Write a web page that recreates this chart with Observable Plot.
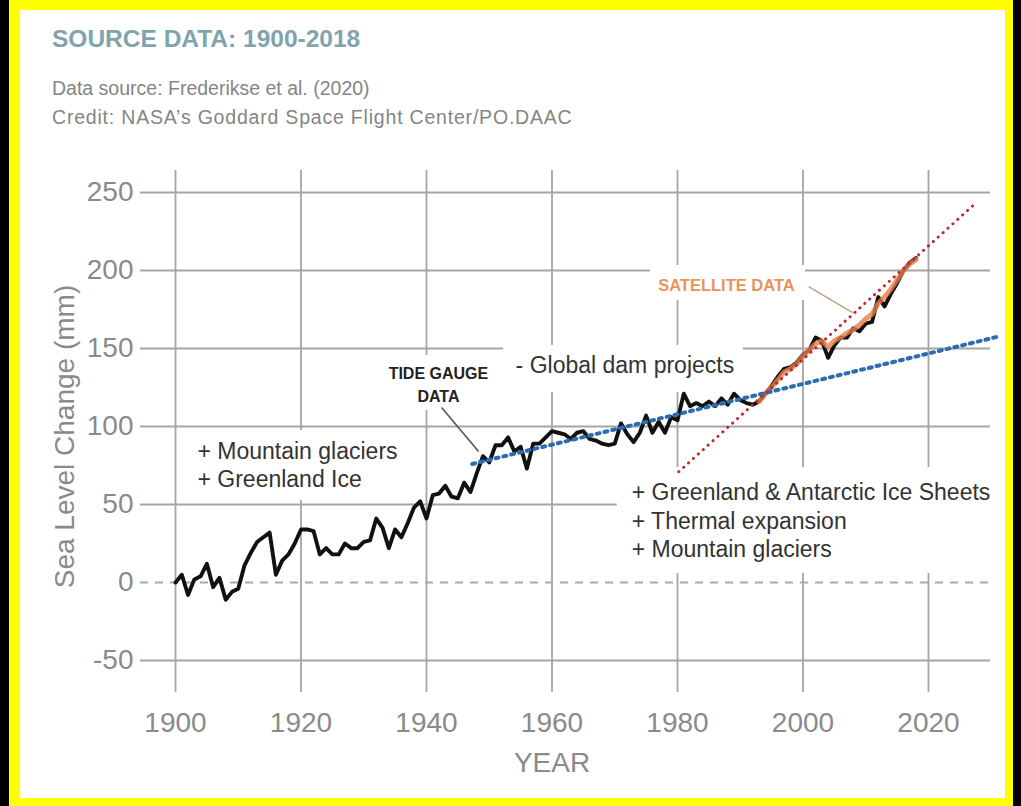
<!DOCTYPE html>
<html>
<head>
<meta charset="utf-8">
<script src="https://cdn.jsdelivr.net/npm/d3@7"></script>
<script src="https://cdn.jsdelivr.net/npm/@observablehq/plot@0.6"></script>
<style>
  html, body { margin: 0; padding: 0; background: #000; width: 1021px; height: 806px; overflow: hidden; }
  #frame { position: absolute; left: 9px; top: 0; width: 1004px; height: 806px; background: #ffff00; }
  #inner { position: absolute; left: 20px; top: 10px; width: 985px; height: 788px; background: #fff; }
  .t { position: absolute; font-family: "Liberation Sans", Arial, Helvetica, sans-serif; white-space: nowrap; }
  #title { left: 52px; top: 25px; font-size: 24.5px; font-weight: bold; color: #7fa4ae; line-height: 28px; }
  #sub1 { left: 52px; top: 77px; font-size: 19.5px; color: #858585; line-height: 22px; }
  #sub2 { left: 52px; top: 106px; font-size: 19.5px; color: #858585; line-height: 22px; letter-spacing: 0.8px; }
  #chart { position: absolute; left: 0; top: 140px; }
</style>
</head>
<body>
<div id="frame"></div>
<div id="inner"></div>
<div class="t" id="title">SOURCE DATA: 1900-2018</div>
<div class="t" id="sub1">Data source: Frederikse et al. (2020)</div>
<div class="t" id="sub2">Credit: NASA’s Goddard Space Flight Center/PO.DAAC</div>
<div id="chart"></div>
<script>
// ---- data ----
const years = d3.range(1900, 2019);
const seaLevel = [
  0, 5, -8, 2, 4, 12, -3, 3, -11, -6,
  -4, 11, 19, 26, 29, 32, 5, 14, 18, 25,
  34, 34, 33, 18, 22, 18, 18, 25, 22, 22,
  26, 27, 41, 35, 22, 34, 29, 38, 48, 52,
  41, 56, 57, 62, 55, 54, 64, 58, 70, 81,
  77, 88, 88, 93, 84, 87, 73, 89, 89, 93,
  97, 96, 95, 92, 96, 97, 92, 91, 89, 88,
  89, 102, 95, 90, 96, 107, 96, 103, 96, 106,
  104, 121, 113, 115, 113, 116, 113, 118, 114, 121,
  117, 115, 114, 116, 121, 126, 132, 137, 138, 141,
  146, 149, 157, 155, 144, 152, 157, 157, 163, 161,
  166, 167, 183, 177, 185, 192, 200, 205, 208
];
const satYears = d3.range(1993, 2019);
const satLevel = [
  116, 121, 125, 130, 135, 137, 140, 145, 149, 153,
  155, 151, 155, 157, 160, 162, 165, 169, 172, 179,
  183, 188, 194, 200, 204, 207
];
const tideTrendYears = [1947.3, 2031.5];
const tideTrendLevel = [76, 158];
const satTrendYears = [1980.2, 2027.2];
const satTrendLevel = [71, 242];

const xTicks = [1900, 1920, 1940, 1960, 1980, 2000, 2020];
const yTicks = [-50, 0, 50, 100, 150, 200, 250];

const noteText = ["- Global dam projects", "+ Mountain glaciers", "+ Greenland Ice",
  "+ Greenland & Antarctic Ice Sheets", "+ Thermal expansion", "+ Mountain glaciers"];
const noteYear = [1954.2, 1903.5, 1903.5, 1972.7, 1972.7, 1972.7];
const noteLevel = [139.1, 84, 66, 57.7, 39.1, 21.2];

const labelText = ["TIDE GAUGE\nDATA", "SATELLITE DATA"];
const labelYear = [1941.9, 1987.8];
const labelLevel = [127.6, 190.4];

// white boxes behind the annotations (year span, mm span)
const boxYears = [[1952.3, 1990.5], [1902.4, 1935.9], [1970.4, 2029.9], [1931.3, 1949.6], [1975.7, 2000.4]];
const boxLevels = [[121.8, 151.9], [52.6, 97.4], [5.8, 73.7], [110.3, 145.5], [180.8, 203.2]];

const pointerFrom = [[1942.4, 112.2], [2000.9, 189.7]];
const pointerTo = [[1948.3, 84], [2007.9, 173]];

// ---- tables ----
const series = years.map((y, i) => ({year: y, level: seaLevel[i]}));
const sat = satYears.map((y, i) => ({year: y, level: satLevel[i]}));
const tideTrend = tideTrendYears.map((y, i) => ({year: y, level: tideTrendLevel[i]}));
const satTrend = satTrendYears.map((y, i) => ({year: y, level: satTrendLevel[i]}));
const notes = noteText.map((t, i) => ({text: t, year: noteYear[i], level: noteLevel[i]}));
const labels = labelText.map((t, i) => ({text: t, year: labelYear[i], level: labelLevel[i]}));
const boxes = boxYears.map((b, i) => ({x1: b[0], x2: b[1], y1: boxLevels[i][0], y2: boxLevels[i][1]}));
const pointers = pointerFrom.map((p, i) => ({x1: p[0], y1: p[1], x2: pointerTo[i][0], y2: pointerTo[i][1]}));

const font = "Liberation Sans, Arial, Helvetica, sans-serif";
const gridColor = "#a5a5a5";

const chart = Plot.plot({
  width: 1021,
  height: 660,
  marginLeft: 140,
  marginRight: 31,
  marginTop: 30,
  marginBottom: 108,
  style: {background: "transparent", color: "#8a8a8a", fontFamily: font},
  x: {domain: [1900, 2020], range: [175, 928]},
  y: {domain: [-50, 250], range: [520, 52]},
  marks: [
    Plot.ruleX(xTicks, {stroke: gridColor, strokeWidth: 1.8}),
    Plot.ruleY(yTicks.filter(d => d !== 0), {stroke: gridColor, strokeWidth: 1.8}),
    Plot.ruleY([0], {stroke: "#aaaaaa", strokeWidth: 2, strokeDasharray: "8,7"}),
    Plot.axisY(yTicks, {
      anchor: "left", tickSize: 0, tickPadding: 7, fontSize: 28,
      tickFormat: d => String(d),
      label: null
    }),
    Plot.text(["Sea Level Change (mm)"], {
      frameAnchor: "left", dx: -75, dy: 5, rotate: -90, text: d => d,
      fontSize: 28, fill: "#8a8a8a", lineAnchor: "middle", textAnchor: "middle"
    }),
    Plot.axisX(xTicks, {
      anchor: "bottom", tickSize: 0, tickPadding: 20, fontSize: 28,
      tickFormat: d => String(d), label: null
    }),
    Plot.text(["YEAR"], {
      x: d3.mean(xTicks), frameAnchor: "bottom", dy: 71,
      text: d => d, fontSize: 28, fill: "#8a8a8a", lineAnchor: "middle"
    }),
    Plot.rect(boxes, {x1: "x1", x2: "x2", y1: "y1", y2: "y2", fill: "white"}),
    Plot.text(notes, {
      x: "year", y: "level", text: "text", textAnchor: "start", lineAnchor: "middle",
      fontSize: 23, fill: "#333"
    }),
    Plot.text(labels.slice(0, 1), {
      x: "year", y: "level", text: "text", textAnchor: "middle", lineAnchor: "middle",
      fontSize: 16, fontWeight: "bold", lineHeight: 1.4, fill: "#222"
    }),
    Plot.text(labels.slice(1), {
      x: "year", y: "level", text: "text", textAnchor: "middle", lineAnchor: "middle",
      fontSize: 16.5, fontWeight: "bold", fill: "#e8935a"
    }),
    Plot.link(pointers.slice(0, 1), {x1: "x1", y1: "y1", x2: "x2", y2: "y2", stroke: "#555", strokeWidth: 1.6}),
    Plot.link(pointers.slice(1), {x1: "x1", y1: "y1", x2: "x2", y2: "y2", stroke: "#c8a27f", strokeWidth: 1.6}),
    Plot.line(series, {x: "year", y: "level", stroke: "#111", strokeWidth: 3.9}),
    Plot.line(sat, {x: "year", y: "level", stroke: "#e8804a", strokeWidth: 5, strokeOpacity: 0.8}),
    Plot.line(tideTrend, {x: "year", y: "level", stroke: "#2e6cb2", strokeWidth: 4, strokeDasharray: "3,5"}),
    Plot.line(satTrend, {x: "year", y: "level", stroke: "#c0282d", strokeWidth: 3, strokeDasharray: "0.1,6.5", strokeLinecap: "round"})
  ]
});
document.getElementById("chart").appendChild(chart);
</script>
</body>
</html>
